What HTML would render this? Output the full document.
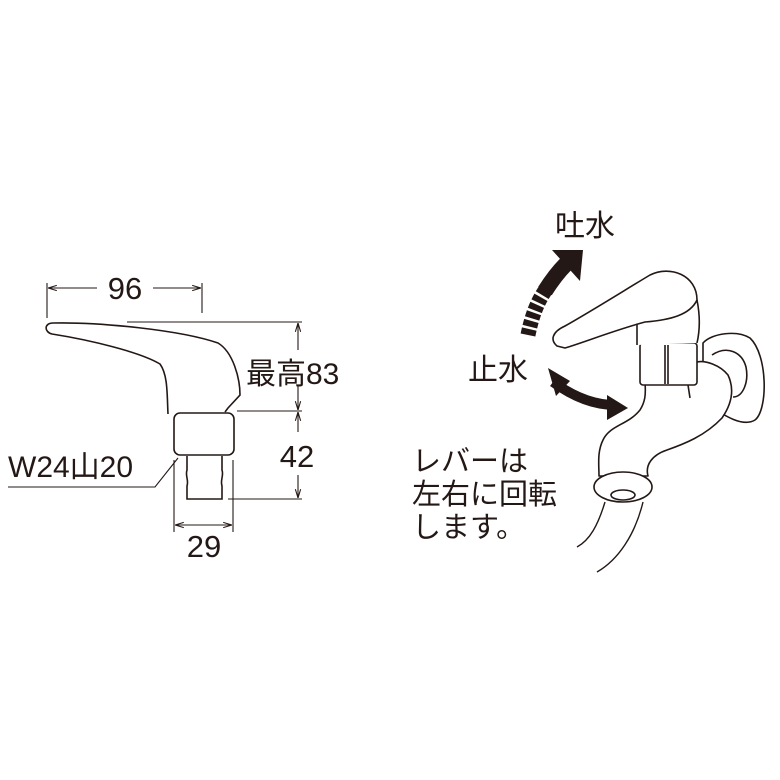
<!DOCTYPE html>
<html><head><meta charset="utf-8"><style>
body{margin:0;background:#fff}
svg{display:block}
text{font-family:"Liberation Sans","Noto Sans CJK JP",sans-serif;fill:#231815}
</style></head><body>
<svg width="780" height="780" viewBox="0 0 780 780" xmlns="http://www.w3.org/2000/svg">
<defs>
<marker id="a" viewBox="0 0 10 10" refX="10" refY="5" markerWidth="8" markerHeight="8" orient="auto-start-reverse"><path d="M0,2 L10,5 L0,8" fill="none" stroke="#231815" stroke-width="1.2"/></marker>
</defs>
<g stroke="#231815" stroke-width="1.1" fill="none">
<line x1="47" y1="283" x2="47" y2="318"/>
<line x1="202" y1="283" x2="202" y2="313"/>
<line x1="48" y1="288" x2="97" y2="288" marker-start="url(#a)"/>
<line x1="153" y1="288" x2="201" y2="288" marker-end="url(#a)"/>
<path d="M127,322 L302,322"/>
<path d="M53,323 C100,322 180,330 218,343 C233,352 240,378 240,395 L228,408 L225,412" stroke-width="1.6"/>
<path d="M168,414 C167,395 168,375 160,364 C140,352 90,340 52,334 C44,332 44,323 53,323" stroke-width="1.6"/>
<rect x="174" y="413" width="60" height="42" rx="6" stroke-width="1.6"/>
<path d="M187,456 L187,470 C185,476 189,480 187,486 L187,499 L222,499 L222,486 C220,480 224,476 222,470 L222,456" stroke-width="1.6"/>
<line x1="237" y1="411" x2="302" y2="411"/>
<line x1="228" y1="499" x2="302" y2="499"/>
<line x1="298" y1="323" x2="298" y2="350" marker-start="url(#a)"/>
<line x1="298" y1="386" x2="298" y2="410" marker-end="url(#a)"/>
<line x1="298" y1="412" x2="298" y2="432" marker-start="url(#a)"/>
<line x1="298" y1="475" x2="298" y2="498" marker-end="url(#a)"/>
<line x1="174" y1="460" x2="174" y2="532"/>
<line x1="233" y1="460" x2="233" y2="532"/>
<line x1="175" y1="525" x2="232" y2="525" marker-start="url(#a)" marker-end="url(#a)"/>
<path d="M8,487 L155,487 L178,458"/>
</g>
<text x="125" y="299" font-size="31" text-anchor="middle">96</text>
<text x="246" y="384" font-size="30">最高83</text>
<text x="297" y="467" font-size="31" text-anchor="middle">42</text>
<text x="204" y="557" font-size="31" text-anchor="middle">29</text>
<text x="8" y="477" font-size="30">W24山20</text>

<text x="555" y="236" font-size="30">吐水</text>
<text x="468" y="380" font-size="30">止水</text>
<text x="412" y="471" font-size="29">レバーは</text>
<text x="412" y="504" font-size="29">左右に回転</text>
<text x="412" y="537" font-size="29">します。</text>
<!-- arrows -->
<path d="M528,335 C532,315 538,300 547,288" stroke="#231815" stroke-width="15" fill="none" stroke-dasharray="6,2.5"/>
<path d="M545,291 C552,280 558,272 566,264" stroke="#231815" stroke-width="16" fill="none"/>
<path d="M552,250 L583,250 L580,281 Z" fill="#231815"/>
<path d="M553,382 C575,398 595,405 615,405" stroke="#231815" stroke-width="10" fill="none"/>
<path d="M548,368 L570,381 L556,396 Z" fill="#231815"/>
<path d="M628,408 L607,395 L607,420 Z" fill="#231815"/>
<!-- faucet -->
<g stroke="#231815" stroke-width="1.6" fill="#fff" stroke-linejoin="round">
<path d="M703,343 C712,333 737,330 750,338 C768,355 768,410 755,420 C742,428 722,414 703,402 Z"/>
<path d="M712,355 C727,345 742,352 746,367 C749,382 743,397 733,397"/>
<path d="M645,383 C646,395 645,402 640,410 C628,425 610,425 603,440 C597,452 599,465 599,476 L648,476 C645,465 652,455 667,450 C684,444 705,436 722,418 C731,405 735,390 728,375 C720,365 705,360 697,362 L690,383 Z"/>
<path d="M688,385 L690,398"/>
<ellipse cx="623" cy="487" rx="29" ry="15"/>
<ellipse cx="623" cy="495" rx="12" ry="5"/>
<rect x="640" y="343" width="57" height="42" rx="3"/>
<line x1="665" y1="345" x2="665" y2="384"/><line x1="668" y1="345" x2="668" y2="384"/>
<path d="M637,345 L637,322 C640,290 680,285 697,300 C700,315 700,330 697,343"/>
<path d="M557,346 C550,340 552,332 565,326 C590,312 625,290 650,275 C670,265 697,275 697,300 C690,315 670,320 645,322 C615,330 585,342 565,348 Z"/>
</g>
<path d="M605,502 C598,525 590,540 577,547 M643,502 C635,535 618,560 597,572" stroke="#231815" stroke-width="1.4" fill="none"/>
</svg>
</body></html>
